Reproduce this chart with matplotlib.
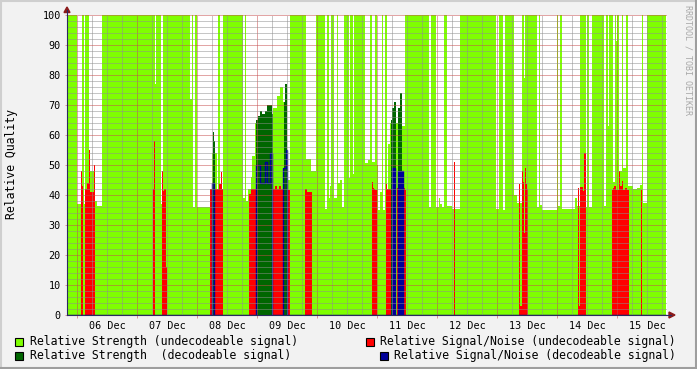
import matplotlib
matplotlib.use("Agg")
from matplotlib import pyplot as plt
from matplotlib.patches import Rectangle, Polygon
from matplotlib.lines import Line2D
from matplotlib.ticker import MultipleLocator, FixedLocator, FuncFormatter

# time axis: hours since 06 Dec 00:00 (one rrd step = 24 min)
t_first = -4.0
t_last = 235.6
day_labels = ["06 Dec", "07 Dec", "08 Dec", "09 Dec", "10 Dec",
              "11 Dec", "12 Dec", "13 Dec", "14 Dec", "15 Dec"]

# Relative Strength (undecodeable): start hour of each run + value
strength_t = [-4.0, -0.1, 1.9, 2.8, 3.3, 4.9, 6.9, 7.9, 9.9, 31.2, 31.6, 33.6, 34.3,
              45.2, 46.1, 46.5, 47.2, 47.9, 53.9, 55.9, 56.4, 57.2, 58.5, 66.5, 67.2,
              67.7, 68.5, 69.5, 69.9, 71.2, 71.9, 78.5, 79.9, 81.2, 82.5, 83.9, 85.2,
              91.6, 93.6, 95.6, 99.2, 99.9, 100.8, 101.2, 101.6, 102.9, 103.9, 104.4,
              105.2, 106.0, 106.8, 108.8, 109.2, 110.3, 110.8, 115.2, 116.5, 117.2,
              117.9, 119.2, 119.9, 120.5, 121.2, 121.9, 122.5, 123.2, 123.9, 124.5,
              125.2, 126.0, 127.5, 128.4, 130.0, 131.3, 140.9, 141.6, 143.6, 144.8,
              145.2, 145.9, 146.8, 148.1, 149.9, 153.2, 167.6, 168.8, 170.5, 171.2,
              174.9, 176.0, 177.9, 178.9, 179.3, 184.1, 184.8, 185.2, 185.9, 191.9,
              192.5, 193.2, 193.9, 199.2, 199.9, 201.2, 203.6, 204.1, 204.9, 205.9,
              210.9, 211.5, 212.3, 212.8, 214.5, 215.1, 215.6, 216.1, 216.7, 217.9,
              218.5, 219.6, 220.5, 222.4, 224.0, 225.2, 226.1, 226.5, 227.9]
strength_v = [100, 37, 100, 37, 100, 48, 38, 36.5, 100, 77, 100, 37, 100,
              72, 100, 36, 100, 36, 54, 36, 100, 38, 100, 39, 100,
              38, 42, 46, 53, 64, 60, 69, 73, 76, 71, 45, 100,
              52, 48, 100, 35.5, 100, 39, 43, 100, 39, 100, 44,
              45, 36, 100, 45.6, 100, 47, 100, 50.6, 51.7, 100,
              51, 100, 50, 35, 41, 100, 35, 100, 40, 57,
              64, 62, 64, 60, 63, 100, 36, 100, 36, 38.9,
              37, 36, 100, 36.5, 35.5, 100, 35.5, 100, 35, 100,
              40, 37.5, 100, 79, 100, 36, 100, 36.7, 35, 100,
              36.5, 100, 35.5, 38.9, 36.5, 100, 36, 100, 36, 100,
              36.5, 100, 63, 100, 44.5, 100, 91.5, 100, 48, 100,
              49, 100, 43, 42, 42.5, 43.5, 100, 37.5, 100]

# Relative Signal/Noise (undecodeable): runs
snr_start = [1.6, 2.0, 3.2, 4.1, 4.8, 5.2, 6.7, 7.1, 30.3, 30.8, 33.9, 34.3, 34.8, 35.6,
             53.2, 56.8, 57.5, 57.9, 68.8, 69.5, 79.2, 80.0, 80.8, 81.6, 84.1,
             91.2, 92.0, 117.9, 118.3, 118.8, 119.3, 123.6, 124.1, 127.9, 130.3, 131.1,
             150.7, 176.8, 177.2, 177.9, 178.3, 178.8, 179.2, 179.7, 180.1,
             200.3, 200.8, 201.2, 202.5, 202.9, 213.9, 214.3, 214.8, 215.6, 216.8,
             217.2, 217.9, 218.3, 219.2, 220.1, 225.6]
snr_end = [2.0, 2.5, 4.1, 4.8, 5.2, 6.7, 7.1, 7.2, 30.8, 31.2, 34.3, 34.8, 35.6, 36.0,
           56.8, 57.5, 57.9, 58.3, 69.5, 79.2, 80.0, 80.8, 81.6, 84.1, 85.2,
           92.0, 93.9, 118.3, 118.8, 119.3, 119.9, 124.1, 126.0, 128.5, 131.1, 131.6,
           151.1, 177.2, 177.9, 178.3, 178.8, 179.2, 179.7, 180.1, 180.3,
           200.8, 201.2, 202.5, 202.9, 203.5, 214.3, 214.8, 215.6, 216.8, 217.2,
           217.9, 218.3, 219.2, 220.1, 220.8, 226.0]
snr_val = [48, 43, 42, 44, 55, 41, 50, 41, 42, 58, 48, 41.5, 42, 16,
           42, 43.7, 47.8, 42, 40.5, 42, 43, 42, 43, 42, 41.6,
           42, 41, 44.4, 42.5, 42, 41.6, 43.6, 42, 42.4, 42.4, 41.6,
           51, 43.6, 3, 48, 44.5, 27.5, 48.9, 43.6, 42,
           42.3, 3, 42.8, 41.4, 53.9, 41.6, 42.4, 43, 41.6, 48,
           43, 44.6, 41.6, 42.4, 41.6, 41.6]

# Relative Strength (decodeable): runs
dec_start = [54.3, 54.8, 71.6, 72.4, 73.2, 73.9, 75.2, 75.9, 77.9, 82.8, 83.3,
             125.5, 126.0, 126.7, 128.4, 129.1]
dec_end = [54.8, 55.3, 72.4, 73.2, 73.9, 75.2, 75.9, 77.9, 78.5, 83.3, 83.9,
           126.0, 126.7, 127.5, 129.1, 130.0]
dec_val = [61, 58, 65, 66.4, 68, 67, 68, 70, 67, 71, 77,
           65, 69, 71, 69, 74]

# Relative Signal/Noise (decodeable): runs, zero in between
dsnr_start = [53.9, 71.6, 73.2, 75.2, 76.1, 77.2, 82.5, 83.6,
              126.0, 126.8, 128.5, 129.3, 130.1]
dsnr_end = [54.9, 73.2, 75.2, 76.1, 77.2, 78.1, 83.6, 84.1,
            126.4, 127.2, 128.9, 129.7, 130.3]
dsnr_val = [44, 50, 44, 51, 44, 54, 49, 55,
            49, 49, 48, 48, 48]

C_LG = "#7FFF00"
C_RED = "#FF0000"
C_DG = "#006600"
C_BLUE = "#000099"
C_GRID = (0.56, 0.56, 0.56, 0.55)
C_MGRID = (0.78, 0.30, 0.30, 0.55)
C_AXIS = "#2A2A60"
C_ARROW = "#8B1A1A"

W, H = 697, 369
plt.rcParams["font.family"] = ["DejaVu Sans Mono"]


def fx(x):
    return x / W


def fy(y):
    return 1 - y / H


fig = plt.figure(figsize=(W / 100, H / 100), dpi=100, facecolor="#F2F2F2")
ax = fig.add_axes([fx(67), fy(315), 600 / W, 300 / H])
ax.set_facecolor("white")

# areas, drawn in rrdtool order
ax.stairs(strength_v, strength_t + [t_last], fill=True, color=C_LG,
          antialiased=False, zorder=1)
ax.bar(snr_start, snr_val, width=[e - s for s, e in zip(snr_start, snr_end)],
       align="edge", color=C_RED, linewidth=0, antialiased=False, zorder=1.1)
ax.bar(dec_start, dec_val, width=[e - s for s, e in zip(dec_start, dec_end)],
       align="edge", color=C_DG, linewidth=0, antialiased=False, zorder=1.2)

# decodeable S/N is a line, zero elsewhere
edges = [t_first]
vals = []
for s, e, v in zip(dsnr_start, dsnr_end, dsnr_val):
    if s > edges[-1]:
        vals.append(0)
        edges.append(s)
    vals.append(v)
    edges.append(e)
vals.append(0)
edges.append(t_last)
ax.stairs(vals, edges, baseline=None, color=C_BLUE, linewidth=1.0, zorder=1.3)

ax.set_xlim(-4, 236)
ax.set_ylim(0, 100)

# grid: minor every 6 h / 2 units, major at midnight / every 10
ax.xaxis.set_major_locator(MultipleLocator(24))
ax.xaxis.set_minor_locator(MultipleLocator(6))
ax.yaxis.set_major_locator(MultipleLocator(10))
ax.yaxis.set_minor_locator(MultipleLocator(2))
ax.set_axisbelow(False)
ax.grid(which="minor", color=C_GRID, linestyle=(0, (1, 1)), linewidth=0.72)
ax.grid(which="major", color=C_MGRID, linestyle=(0, (1, 1)), linewidth=0.72)


def day_fmt(h, pos):
    h = int(round(h))
    if h % 24 == 12 and 0 <= h // 24 < len(day_labels):
        return day_labels[h // 24]
    return ""


ax.xaxis.set_major_formatter(FuncFormatter(lambda h, pos: ""))
ax.xaxis.set_minor_formatter(FuncFormatter(day_fmt))
ax.tick_params(axis="x", which="major", length=2.2, width=0.72, color=C_MGRID,
               direction="out")
ax.tick_params(axis="x", which="minor", length=0, pad=4.2, labelsize=7.3)
ax.tick_params(axis="y", which="major", length=1.5, width=0.72, color=C_MGRID,
               direction="out", pad=3.0, labelsize=7.3)
ax.tick_params(axis="y", which="minor", length=0)
ax.yaxis.set_major_formatter(FuncFormatter(lambda v, pos: "%d" % v))
for sp in ax.spines.values():
    sp.set_visible(False)

ax.set_ylabel("Relative Quality", fontsize=8.3, labelpad=3)
ax.yaxis.set_label_coords(fx(12) - fx(67), 0.5, transform=None) if False else None
fig.text(fx(12), fy(164), "Relative Quality", rotation=90, fontsize=8.3,
         ha="center", va="center")
ax.set_ylabel("")

# axis lines and arrows
fig.add_artist(Line2D([fx(67), fx(67)], [fy(315), fy(10)], color=C_AXIS, lw=0.8))
fig.add_artist(Line2D([fx(67), fx(671)], [fy(315), fy(315)], color=C_AXIS, lw=0.8))
fig.add_artist(Polygon([[fx(64), fy(12.5)], [fx(70), fy(12.5)], [fx(67), fy(7)]],
                       closed=True, color=C_ARROW))
fig.add_artist(Polygon([[fx(669), fy(312)], [fx(669), fy(318)], [fx(675), fy(315)]],
                       closed=True, color=C_ARROW))

# watermark
fig.text(fx(688), fy(60), "RRDTOOL / TOBI OETIKER", rotation=270, fontsize=6,
         color="#A8A8A8", ha="center", va="center")

# legend
legend = [
    (15, 341, C_LG, "Relative Strength (undecodeable signal)"),
    (365.5, 341, C_RED, "Relative Signal/Noise (undecodeable signal)"),
    (15, 355, C_DG, "Relative Strength  (decodeable signal)"),
    (379.5, 355, C_BLUE, "Relative Signal/Noise (decodeable signal)"),
]
for x, y, c, label in legend:
    fig.add_artist(Rectangle((fx(x), fy(y + 4.5)), 8 / W, 8 / H, facecolor=c,
                             edgecolor="black", linewidth=0.8))
    fig.text(fx(x + 14.5), fy(y), label, fontsize=8.3, ha="left", va="center")

# 3d frame of the canvas
fig.add_artist(Line2D([0, 1], [fy(0.5), fy(0.5)], color="#CFCFCF", lw=1.5))
fig.add_artist(Line2D([fx(0.5), fx(0.5)], [0, 1], color="#CFCFCF", lw=1.5))
fig.add_artist(Line2D([0, 1], [fy(368), fy(368)], color="#9E9E9E", lw=1.5))
fig.add_artist(Line2D([fx(696), fx(696)], [0, 1], color="#9E9E9E", lw=1.5))

fig.savefig("out.png", dpi=100, facecolor=fig.get_facecolor())
